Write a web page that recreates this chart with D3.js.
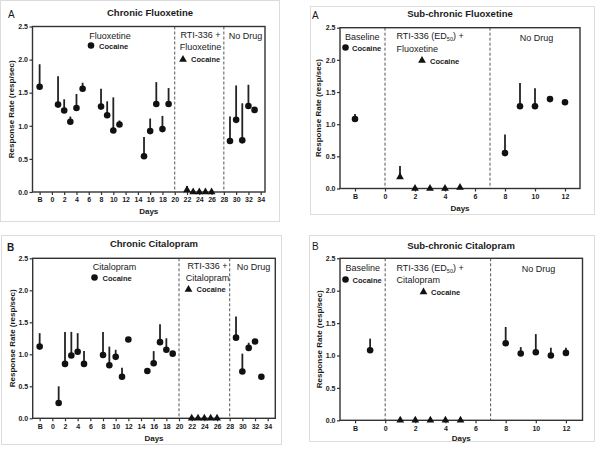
<!DOCTYPE html>
<html><head><meta charset="utf-8">
<script src="https://cdn.jsdelivr.net/npm/d3@7"></script>
<style>
body{margin:0;background:#fff}
svg{display:block}
text{font-family:"Liberation Sans",Arial,Helvetica,sans-serif;fill:#1a1a1a}
</style>
</head><body>
<svg id="c" width="600" height="449"></svg>
<script>
// ---------- tick labels ----------
const yTickValues = [0, 0.5, 1.0, 1.5, 2.0, 2.5];
const chronicXTicks = [-2,0,2,4,6,8,10,12,14,16,18,20,22,24,26,28,30,32,34];
const chronicXLabels = ["B","0","2","4","6","8","10","12","14","16","18","20","22","24","26","28","30","32","34"];
const subXTicks = [-2,0,2,4,6,8,10,12];
const subXLabels = ["B","0","2","4","6","8","10","12"];

// ---------- Chronic Fluoxetine ----------
const cfDrugDays = [-2,1,2,3,4,5,8,9,10,11,15,16,17,18,19];
const cfDrugRate = [1.59,1.32,1.23,1.06,1.27,1.56,1.29,1.16,0.93,1.02,0.54,0.92,1.33,0.95,1.33];
const cfDrugSem  = [0.34,0.43,0.17,0.08,0.21,0.09,0.27,0.21,0.50,0.06,0.29,0.19,0.33,0.20,0.24];
const cfRtiDays = [22,23,24,25,26];
const cfRtiRate = [0.03,0,0,0,0];
const cfRtiSem  = [0.06,0,0,0,0];
const cfNoDays = [29,30,31,32,33];
const cfNoRate = [0.77,1.09,0.78,1.30,1.24];
const cfNoSem  = [0.37,0.52,0.56,0.32,0];

// ---------- Sub-chronic Fluoxetine ----------
const sfBaseDays = [-2];
const sfBaseRate = [1.08];
const sfBaseSem  = [0.08];
const sfRtiDays = [1,2,3,4,5];
const sfRtiRate = [0.18,0,0,0,0.015];
const sfRtiSem  = [0.17,0,0,0,0];
const sfNoDays = [8,9,10,11,12];
const sfNoRate = [0.55,1.28,1.28,1.39,1.34];
const sfNoSem  = [0.29,0.36,0.28,0,0];

// ---------- Chronic Citalopram ----------
const ccDrugDays = [-2,1,2,3,4,5,8,9,10,11,12,15,16,17,18,19];
const ccDrugRate = [1.12,0.24,0.85,0.98,1.04,0.85,0.99,0.83,0.96,0.65,1.23,0.74,0.86,1.19,1.07,1.01];
const ccDrugSem  = [0.21,0.26,0.50,0.37,0.29,0.20,0.36,0.29,0.11,0.14,0,0,0.19,0.28,0.18,0];
const ccRtiDays = [22,23,24,25,26];
const ccRtiRate = [0,0,0,0,0];
const ccRtiSem  = [0,0,0,0,0];
const ccNoDays = [29,30,31,32,33];
const ccNoRate = [1.26,0.73,1.10,1.20,0.65];
const ccNoSem  = [0.33,0.28,0.08,0.03,0];

// ---------- Sub-chronic Citalopram ----------
const scBaseDays = [-1];
const scBaseRate = [1.08];
const scBaseSem  = [0.18];
const scRtiDays = [1,2,3,4,5];
const scRtiRate = [0,0,0,0,0];
const scRtiSem  = [0,0,0,0,0];
const scNoDays = [8,9,10,11,12];
const scNoRate = [1.19,1.03,1.05,1.00,1.04];
const scNoSem  = [0.25,0.10,0.28,0.12,0.08];

function zipSeries(days, rate, sem, shape){
  return {shape, pts: days.map((d,i)=>({day:d, rate:rate[i], sem:sem[i]}))};
}

const svg = d3.select("#c");

const panels = [
  { frame:[0.5,0.5,279,221], left:32.5, right:265, top:26.5, bottom:192, xDomain:[-3.16,34.7],
    xTicks:chronicXTicks, xLabels:chronicXLabels, dividers:[20,28],
    title:"Chronic Fluoxetine", titleX:150, titleY:16, letter:"A", letterX:8, letterY:18, letterBold:false,
    ylabX:14, daysY:213.5,
    series:[zipSeries(cfDrugDays,cfDrugRate,cfDrugSem,"circle"),
            zipSeries(cfRtiDays,cfRtiRate,cfRtiSem,"triangle"),
            zipSeries(cfNoDays,cfNoRate,cfNoSem,"circle")],
    texts:[{t:"Fluoxetine",x:110,y:38.5,a:"middle"},
           {t:"RTI-336 +",x:200.5,y:37.5,a:"middle"},
           {t:"Fluoxetine",x:200.5,y:50,a:"middle"},
           {t:"No Drug",x:245.5,y:39,a:"middle"}],
    keys:[{shape:"circle",mx:91,my:45.5,tx:99,ty:48.5},
          {shape:"triangle",mx:183,my:59.5,tx:191,ty:62}]
  },
  { frame:[310.5,6.5,284,208], left:340, right:580, top:27.7, bottom:188.5, xDomain:[-3,13],
    xTicks:subXTicks, xLabels:subXLabels, dividers:[0,7],
    title:"Sub-chronic Fluoxetine", titleX:460, titleY:17, letter:"A", letterX:312, letterY:18.5, letterBold:false,
    ylabX:321, daysY:210.5,
    series:[zipSeries(sfBaseDays,sfBaseRate,sfBaseSem,"circle"),
            zipSeries(sfRtiDays,sfRtiRate,sfRtiSem,"triangle"),
            zipSeries(sfNoDays,sfNoRate,sfNoSem,"circle")],
    texts:[{t:"Baseline",x:345,y:39.5,a:"start"},
           {t:"RTI-336 (ED",sub:"50",after:") +",x:396.5,y:38.5,a:"start"},
           {t:"Fluoxetine",x:396.5,y:51.5,a:"start"},
           {t:"No Drug",x:536.5,y:40.5,a:"middle"}],
    keys:[{shape:"circle",mx:345.5,my:47.5,tx:352,ty:50.5},
          {shape:"triangle",mx:422,my:60.5,tx:430,ty:63.5}]
  },
  { frame:[1.5,235.5,280,209], left:32.7, right:275.3, top:258.3, bottom:418.3, xDomain:[-3.1,35.2],
    xTicks:chronicXTicks, xLabels:chronicXLabels, dividers:[20,28],
    title:"Chronic Citalopram", titleX:154, titleY:247, letter:"B", letterX:7, letterY:251, letterBold:true,
    ylabX:15, daysY:440.5,
    series:[zipSeries(ccDrugDays,ccDrugRate,ccDrugSem,"circle"),
            zipSeries(ccRtiDays,ccRtiRate,ccRtiSem,"triangle"),
            zipSeries(ccNoDays,ccNoRate,ccNoSem,"circle")],
    texts:[{t:"Citalopram",x:114.5,y:270,a:"middle"},
           {t:"RTI-336 +",x:207.5,y:268.5,a:"middle"},
           {t:"Citalopram",x:207.5,y:281,a:"middle"},
           {t:"No Drug",x:253.5,y:270,a:"middle"}],
    keys:[{shape:"circle",mx:94.5,my:277.5,tx:102.5,ty:280.5},
          {shape:"triangle",mx:188.5,my:289.5,tx:196.5,ty:292}]
  },
  { frame:[309.5,235.5,285,206], left:340, right:582.5, top:258.3, bottom:420.3, xDomain:[-3,13.1],
    xTicks:subXTicks, xLabels:subXLabels, dividers:[0,7],
    title:"Sub-chronic Citalopram", titleX:461, titleY:248.5, letter:"B", letterX:312, letterY:250, letterBold:false,
    ylabX:322, daysY:440.5,
    series:[zipSeries(scBaseDays,scBaseRate,scBaseSem,"circle"),
            zipSeries(scRtiDays,scRtiRate,scRtiSem,"triangle"),
            zipSeries(scNoDays,scNoRate,scNoSem,"circle")],
    texts:[{t:"Baseline",x:345.5,y:271,a:"start"},
           {t:"RTI-336 (ED",sub:"50",after:") +",x:396.5,y:271,a:"start"},
           {t:"Citalopram",x:396.5,y:283,a:"start"},
           {t:"No Drug",x:538.5,y:272,a:"middle"}],
    keys:[{shape:"circle",mx:345.5,my:279.5,tx:352.5,ty:282.5},
          {shape:"triangle",mx:423.5,my:292,tx:431,ty:294.5}]
  }
];

const circleSym = d3.symbol().type(d3.symbolCircle).size(34);
const triSym = d3.symbol().type(d3.symbolTriangle).size(26);
const symFor = s => s === "circle" ? circleSym() : triSym();

function drawPanel(p){
  const g = svg.append("g");
  g.append("rect").attr("x",p.frame[0]).attr("y",p.frame[1]).attr("width",p.frame[2]).attr("height",p.frame[3])
    .attr("fill","none").attr("stroke","#dcdcdc").attr("stroke-width",1);

  const x = d3.scaleLinear().domain(p.xDomain).range([p.left,p.right]);
  const y = d3.scaleLinear().domain([0,2.5]).range([p.bottom,p.top]);

  // dividers
  p.dividers.forEach(d=>{
    g.append("line").attr("x1",x(d)).attr("x2",x(d)).attr("y1",p.top).attr("y2",p.bottom)
      .attr("stroke","#555").attr("stroke-width",1).attr("stroke-dasharray","3,2");
  });

  // axes
  const ya = d3.axisLeft(y).tickValues(yTickValues).tickFormat(d3.format(".1f")).tickSize(3).tickPadding(1.5);
  const yg = g.append("g").attr("transform",`translate(${p.left},0)`).call(ya);
  const xa = d3.axisBottom(x).tickValues(p.xTicks).tickFormat((d,i)=>p.xLabels[i]).tickSize(3).tickPadding(2.5);
  const xg = g.append("g").attr("transform",`translate(0,${p.bottom})`).call(xa);
  [yg,xg].forEach(a=>{
    a.select(".domain").remove();
    a.selectAll(".tick line").attr("stroke","#333").attr("stroke-width",1.2);
    a.selectAll(".tick text").attr("font-size","7px").attr("font-weight","bold")
      .attr("font-family","'Liberation Sans',Arial,sans-serif").attr("fill","#222");
  });

  // plot border
  g.append("rect").attr("x",p.left).attr("y",p.top).attr("width",p.right-p.left).attr("height",p.bottom-p.top)
    .attr("fill","none").attr("stroke","#333").attr("stroke-width",1.4);

  // error bars
  p.series.forEach(s=>{
    g.selectAll(null).data(s.pts.filter(d=>d.sem>0)).enter().append("line")
      .attr("x1",d=>x(d.day)).attr("x2",d=>x(d.day))
      .attr("y1",d=>y(d.rate)).attr("y2",d=>y(d.rate+d.sem))
      .attr("stroke","#222").attr("stroke-width",1.8);
  });
  // markers
  p.series.forEach(s=>{
    g.selectAll(null).data(s.pts).enter().append("path")
      .attr("d",symFor(s.shape))
      .attr("transform",d=>`translate(${x(d.day)},${y(d.rate)})`)
      .attr("fill","#111");
  });

  // title & letter
  g.append("text").attr("x",p.titleX).attr("y",p.titleY).attr("text-anchor","middle")
    .attr("font-size","9.5px").attr("font-weight","bold").text(p.title);
  g.append("text").attr("x",p.letterX).attr("y",p.letterY).attr("font-size","10px")
    .attr("font-weight",p.letterBold?"bold":"normal").text(p.letter);

  // axis titles
  g.append("text").attr("transform",`translate(${p.ylabX},${(p.top+p.bottom)/2}) rotate(-90)`)
    .attr("text-anchor","middle").attr("font-size","8px").attr("font-weight","bold").text("Response Rate (resp/sec)");
  g.append("text").attr("x",(p.left+p.right)/2).attr("y",p.daysY).attr("text-anchor","middle")
    .attr("font-size","8px").attr("font-weight","bold").text("Days");

  // legend texts
  p.texts.forEach(t=>{
    const tx = g.append("text").attr("x",t.x).attr("y",t.y).attr("text-anchor",t.a).attr("font-size","9px");
    tx.append("tspan").text(t.t);
    if(t.sub){
      tx.append("tspan").attr("font-size","5.5px").attr("dy",2).text(t.sub);
      tx.append("tspan").attr("dy",-2).text(t.after);
    }
  });
  p.keys.forEach(k=>{
    g.append("path").attr("d",symFor(k.shape)).attr("transform",`translate(${k.mx},${k.my})`).attr("fill","#111");
    g.append("text").attr("x",k.tx).attr("y",k.ty).attr("font-size","7.5px").attr("font-weight","bold").text("Cocaine");
  });
}

panels.forEach(drawPanel);
</script>
</body></html>
